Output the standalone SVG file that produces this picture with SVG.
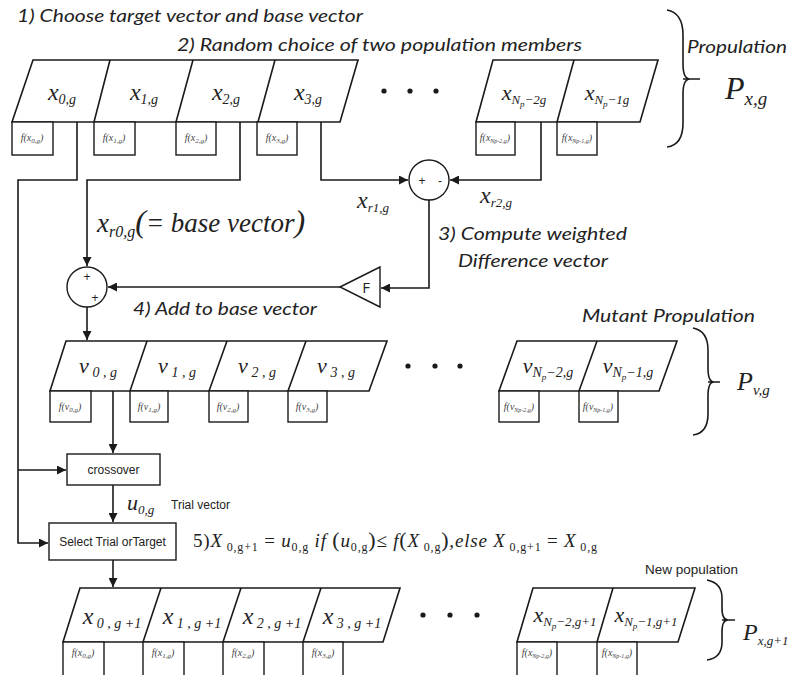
<svg xmlns="http://www.w3.org/2000/svg" width="791" height="675" viewBox="0 0 791 675">
<defs>
<marker id="ah" viewBox="0 0 10 10" refX="10" refY="5" markerWidth="9" markerHeight="9" markerUnits="userSpaceOnUse" orient="auto">
<path d="M0,0 L10,5 L0,10 z" fill="#1a1a1a"/>
</marker>
<style>
.ln{fill:none;stroke:#1a1a1a;stroke-width:1.6}
.cell{fill:#fff;stroke:#1a1a1a;stroke-width:1.6}
.fb{fill:#fff;stroke:#1a1a1a;stroke-width:1.4}
.box{fill:#fff;stroke:#1a1a1a;stroke-width:1.4}
.lab{font-family:Lato,"Open Sans",sans-serif;font-style:italic;fill:#222}
.sans{font-family:"Open Sans","Liberation Sans",sans-serif;fill:#222}
.m{font-family:"Liberation Serif",serif;font-style:italic;fill:#222}
.mu{font-family:"Liberation Serif",serif;fill:#222}
.fx{font-family:"Liberation Serif",serif;font-style:italic;font-size:10px;fill:#444}
.sg{font-family:"Liberation Sans",sans-serif;font-size:12px;fill:#222}
</style>
</defs>

<!-- titles -->
<text class="lab" x="17" y="22" font-size="18" textLength="346" lengthAdjust="spacingAndGlyphs">1) Choose target vector and base vector</text>
<text class="lab" x="177" y="51" font-size="18" textLength="405" lengthAdjust="spacingAndGlyphs">2) Random choice of two population members</text>
<text class="lab" x="687" y="53" font-size="17" textLength="100" lengthAdjust="spacingAndGlyphs">Propulation</text>
<text class="m" x="725" y="99" font-size="32">P<tspan font-size="19" dy="6">x,g</tspan></text>

<!-- top population -->
<g id="pop-top">
<polygon class="cell" points="33,60 358,60 340,122 12,122"/>
<path class="ln" d="M110,60 L94,122 M193,60 L176,122 M275,60 L258,122"/>
<polygon class="cell" points="493,60 658,60 640,122 476,122"/>
<path class="ln" d="M574,60 L557,122"/>
<text class="m" x="62" y="100" font-size="24" text-anchor="middle">x<tspan font-size="14" dy="4">0,g</tspan></text>
<text class="m" x="144" y="100" font-size="24" text-anchor="middle">x<tspan font-size="14" dy="4">1,g</tspan></text>
<text class="m" x="226" y="100" font-size="24" text-anchor="middle">x<tspan font-size="14" dy="4">2,g</tspan></text>
<text class="m" x="308" y="100" font-size="24" text-anchor="middle">x<tspan font-size="14" dy="4">3,g</tspan></text>
<text class="m" x="524" y="100" font-size="22" text-anchor="middle">x<tspan font-size="13" dy="4">N</tspan><tspan font-size="9" dy="3">p</tspan><tspan font-size="13" dy="-3">−2g</tspan></text>
<text class="m" x="607" y="100" font-size="22" text-anchor="middle">x<tspan font-size="13" dy="4">N</tspan><tspan font-size="9" dy="3">p</tspan><tspan font-size="13" dy="-3">−1g</tspan></text>
<circle cx="384" cy="91" r="2.6" fill="#1a1a1a"/>
<circle cx="410" cy="91" r="2.6" fill="#1a1a1a"/>
<circle cx="436" cy="91" r="2.6" fill="#1a1a1a"/>
</g>
<g id="f-top">
<rect class="fb" x="12" y="122" width="41" height="33"/>
<rect class="fb" x="94" y="122" width="41" height="33"/>
<rect class="fb" x="176" y="122" width="40" height="33"/>
<rect class="fb" x="257" y="122" width="40" height="33"/>
<rect class="fb" x="476" y="122" width="39" height="33"/>
<rect class="fb" x="557" y="122" width="40" height="33"/>
<text class="fx" x="32" y="141" text-anchor="middle">f(x<tspan font-size="7" dy="2">0,g</tspan><tspan dy="-2">)</tspan></text>
<text class="fx" x="114" y="141" text-anchor="middle">f(x<tspan font-size="7" dy="2">1,g</tspan><tspan dy="-2">)</tspan></text>
<text class="fx" x="196" y="141" text-anchor="middle">f(x<tspan font-size="7" dy="2">2,g</tspan><tspan dy="-2">)</tspan></text>
<text class="fx" x="277" y="141" text-anchor="middle">f(x<tspan font-size="7" dy="2">3,g</tspan><tspan dy="-2">)</tspan></text>
<text class="fx" x="495" y="141" text-anchor="middle">f(x<tspan font-size="6" dy="2">Np-2,g</tspan><tspan dy="-2">)</tspan></text>
<text class="fx" x="577" y="141" text-anchor="middle">f(x<tspan font-size="6" dy="2">Np-1,g</tspan><tspan dy="-2">)</tspan></text>
</g>
<path id="brace-top" class="ln" d="M667,10 Q683,13 683,35 V64 Q683,79 690,79 Q683,79 683,94 V123 Q683,145 667,147 M683,79 H700"/>

<!-- connectors -->
<g id="connectors">
<path class="ln" d="M77,122 V180 H18 V543 H48" marker-end="url(#ah)"/>
<path class="ln" d="M18,470 H66" marker-end="url(#ah)"/>
<path class="ln" d="M240,122 V180 H87 V266" marker-end="url(#ah)"/>
<path class="ln" d="M321,122 V180 H408" marker-end="url(#ah)"/>
<path class="ln" d="M541,122 V180 H450" marker-end="url(#ah)"/>
<path class="ln" d="M429,200 V288 H381" marker-end="url(#ah)"/>
<path class="ln" d="M340,287 H108" marker-end="url(#ah)"/>
<path class="ln" d="M87,307 V340" marker-end="url(#ah)"/>
<path class="ln" d="M113,391 V453" marker-end="url(#ah)"/>
<path class="ln" d="M113,485 V522" marker-end="url(#ah)"/>
<path class="ln" d="M113,560 V587" marker-end="url(#ah)"/>
</g>

<g id="diff">
<circle class="box" cx="429" cy="180" r="20"/>
<text class="sg" x="422" y="185" text-anchor="middle">+</text>
<text class="sg" x="440" y="185" text-anchor="middle">-</text>
</g>
<g id="sum">
<circle class="box" cx="87" cy="287" r="20"/>
<text class="sg" x="87" y="281" text-anchor="middle" font-size="11">+</text>
<text class="sg" x="95" y="302" text-anchor="middle" font-size="11">+</text>
</g>
<g id="F">
<polygon class="box" points="340,287 380,267 380,307"/>
<text class="sans" x="366" y="293" font-size="15" text-anchor="middle">F</text>
</g>

<text class="m" x="357" y="208" font-size="24">x<tspan font-size="13" dy="4">r1,g</tspan></text>
<text class="m" x="480" y="203" font-size="24">x<tspan font-size="13" dy="4">r2,g</tspan></text>
<text class="m" x="97" y="232" font-size="27">x<tspan font-size="16" dy="5">r0,g</tspan><tspan class="mu" font-size="32" dy="-5">(</tspan><tspan class="mu" font-size="27">=</tspan><tspan font-size="27"> base vector</tspan><tspan class="mu" font-size="32">)</tspan></text>
<text class="lab" x="438" y="240" font-size="18" textLength="189" lengthAdjust="spacingAndGlyphs">3) Compute weighted</text>
<text class="lab" x="458" y="267" font-size="18" textLength="150" lengthAdjust="spacingAndGlyphs">Difference vector</text>
<text class="lab" x="133" y="315" font-size="18" textLength="184" lengthAdjust="spacingAndGlyphs">4) Add to base vector</text>
<text class="lab" x="582" y="322" font-size="18" textLength="173" lengthAdjust="spacingAndGlyphs">Mutant Propulation</text>

<!-- mutant population -->
<g id="pop-mutant">
<polygon class="cell" points="66,341 387,341 369,391 50,391"/>
<path class="ln" d="M147,341 L130,391 M227,341 L209,391 M306,341 L288,391"/>
<polygon class="cell" points="517,341 677,341 659,391 499,391"/>
<path class="ln" d="M597,341 L579,391"/>
<text class="m" x="98" y="373" font-size="22" text-anchor="middle">v<tspan font-size="14" dy="4"> 0 , g</tspan></text>
<text class="m" x="177" y="373" font-size="22" text-anchor="middle">v<tspan font-size="14" dy="4"> 1 , g</tspan></text>
<text class="m" x="257" y="373" font-size="22" text-anchor="middle">v<tspan font-size="14" dy="4"> 2 , g</tspan></text>
<text class="m" x="336" y="373" font-size="22" text-anchor="middle">v<tspan font-size="14" dy="4"> 3 , g</tspan></text>
<text class="m" x="548" y="373" font-size="22" text-anchor="middle">v<tspan font-size="14" dy="4">N</tspan><tspan font-size="9" dy="3">p</tspan><tspan font-size="14" dy="-3">−2,g</tspan></text>
<text class="m" x="628" y="373" font-size="22" text-anchor="middle">v<tspan font-size="14" dy="4">N</tspan><tspan font-size="9" dy="3">p</tspan><tspan font-size="14" dy="-3">−1,g</tspan></text>
<circle cx="408" cy="366" r="2.6" fill="#1a1a1a"/>
<circle cx="435" cy="366" r="2.6" fill="#1a1a1a"/>
<circle cx="460" cy="366" r="2.6" fill="#1a1a1a"/>
</g>
<g id="f-mutant">
<rect class="fb" x="50" y="391" width="41" height="31"/>
<rect class="fb" x="130" y="391" width="38" height="31"/>
<rect class="fb" x="209" y="391" width="39" height="31"/>
<rect class="fb" x="288" y="391" width="39" height="31"/>
<rect class="fb" x="499" y="391" width="40" height="31"/>
<rect class="fb" x="579" y="391" width="39" height="31"/>
<text class="fx" x="70" y="410" text-anchor="middle">f(v<tspan font-size="7" dy="2">0,g</tspan><tspan dy="-2">)</tspan></text>
<text class="fx" x="149" y="410" text-anchor="middle">f(v<tspan font-size="7" dy="2">1,g</tspan><tspan dy="-2">)</tspan></text>
<text class="fx" x="228" y="410" text-anchor="middle">f(v<tspan font-size="7" dy="2">2,g</tspan><tspan dy="-2">)</tspan></text>
<text class="fx" x="307" y="410" text-anchor="middle">f(v<tspan font-size="7" dy="2">3,g</tspan><tspan dy="-2">)</tspan></text>
<text class="fx" x="519" y="410" text-anchor="middle">f(v<tspan font-size="6" dy="2">Np-2,g</tspan><tspan dy="-2">)</tspan></text>
<text class="fx" x="598" y="410" text-anchor="middle">f(v<tspan font-size="6" dy="2">Np-1,g</tspan><tspan dy="-2">)</tspan></text>
</g>
<path id="brace-mutant" class="ln" d="M693,328 Q708,331 708,350 V368 Q708,382 714,382 Q708,382 708,396 V414 Q708,433 693,435 M708,382 H720"/>
<text class="m" x="737" y="390" font-size="26">P<tspan font-size="15" dy="5">v,g</tspan></text>

<!-- crossover / select -->
<g id="crossover">
<rect class="box" x="67" y="454" width="93" height="31"/>
<text class="sg" x="113.5" y="474" text-anchor="middle">crossover</text>
</g>
<text class="m" x="127" y="510" font-size="22">u<tspan font-size="13" dy="4">0,g</tspan></text>
<text class="sg" x="171" y="509">Trial  vector</text>
<g id="select">
<rect class="box" x="49" y="523" width="127" height="37"/>
<text class="sg" x="112.5" y="546" text-anchor="middle">Select Trial orTarget</text>
</g>
<text class="mu" x="193" y="547" font-size="19" textLength="404" lengthAdjust="spacing">5)<tspan font-style="italic">X</tspan><tspan font-size="12" dy="4"> 0,g+1</tspan><tspan dy="-4"> = </tspan><tspan font-style="italic">u</tspan><tspan font-size="12" dy="4">0,g</tspan><tspan font-style="italic" dy="-4"> if </tspan><tspan font-size="22">(</tspan><tspan font-style="italic">u</tspan><tspan font-size="12" dy="4">0,g</tspan><tspan font-size="22" dy="-4">)</tspan><tspan>≤ </tspan><tspan font-style="italic">f</tspan><tspan font-size="22">(</tspan><tspan font-style="italic">X</tspan><tspan font-size="12" dy="4"> 0,g</tspan><tspan font-size="22" dy="-4">)</tspan><tspan font-style="italic">,else   X</tspan><tspan font-size="12" dy="4"> 0,g+1</tspan><tspan dy="-4"> = </tspan><tspan font-style="italic">X</tspan><tspan font-size="12" dy="4"> 0,g</tspan></text>

<!-- new population -->
<text class="sg" x="645" y="574" textLength="93" lengthAdjust="spacingAndGlyphs">New population</text>
<g id="pop-new">
<polygon class="cell" points="80,588 400,588 383,642 63,642"/>
<path class="ln" d="M161,588 L143,642 M241,588 L223,642 M321,588 L303,642"/>
<polygon class="cell" points="533,588 695,588 678,642 517,642"/>
<path class="ln" d="M613,588 L597,642"/>
<text class="m" x="112" y="624" font-size="24" text-anchor="middle">x<tspan font-size="14" dy="4"> 0 , g +1</tspan></text>
<text class="m" x="192" y="624" font-size="24" text-anchor="middle">x<tspan font-size="14" dy="4"> 1 , g +1</tspan></text>
<text class="m" x="272" y="624" font-size="24" text-anchor="middle">x<tspan font-size="14" dy="4"> 2 , g +1</tspan></text>
<text class="m" x="352" y="624" font-size="24" text-anchor="middle">x<tspan font-size="14" dy="4"> 3 , g +1</tspan></text>
<text class="m" x="565" y="622" font-size="22" text-anchor="middle">x<tspan font-size="13" dy="4">N</tspan><tspan font-size="9" dy="3">p</tspan><tspan font-size="13" dy="-3">−2,g+1</tspan></text>
<text class="m" x="646" y="622" font-size="22" text-anchor="middle">x<tspan font-size="13" dy="4">N</tspan><tspan font-size="9" dy="3">p</tspan><tspan font-size="13" dy="-3">−1,g+1</tspan></text>
<circle cx="423" cy="615" r="2.6" fill="#1a1a1a"/>
<circle cx="450" cy="615" r="2.6" fill="#1a1a1a"/>
<circle cx="477" cy="615" r="2.6" fill="#1a1a1a"/>
</g>
<g id="f-new">
<rect class="fb" x="63" y="642" width="41" height="40"/>
<rect class="fb" x="143" y="642" width="41" height="40"/>
<rect class="fb" x="223" y="642" width="41" height="40"/>
<rect class="fb" x="303" y="642" width="40" height="40"/>
<rect class="fb" x="517" y="642" width="40" height="40"/>
<rect class="fb" x="597" y="642" width="40" height="40"/>
<text class="fx" x="83" y="656" text-anchor="middle">f(x<tspan font-size="7" dy="2">0,g</tspan><tspan dy="-2">)</tspan></text>
<text class="fx" x="163" y="656" text-anchor="middle">f(x<tspan font-size="7" dy="2">1,g</tspan><tspan dy="-2">)</tspan></text>
<text class="fx" x="243" y="656" text-anchor="middle">f(x<tspan font-size="7" dy="2">2,g</tspan><tspan dy="-2">)</tspan></text>
<text class="fx" x="323" y="656" text-anchor="middle">f(x<tspan font-size="7" dy="2">3,g</tspan><tspan dy="-2">)</tspan></text>
<text class="fx" x="537" y="656" text-anchor="middle">f(x<tspan font-size="6" dy="2">Np-2,g</tspan><tspan dy="-2">)</tspan></text>
<text class="fx" x="617" y="656" text-anchor="middle">f(x<tspan font-size="6" dy="2">Np-1,g</tspan><tspan dy="-2">)</tspan></text>
</g>
<path id="brace-new" class="ln" d="M707,580 Q722,583 722,598 V608 Q722,620 728,620 Q722,620 722,632 V642 Q722,658 707,660 M722,620 H735"/>
<text class="m" x="743" y="640" font-size="24">P<tspan font-size="13" dy="5">x,g+1</tspan></text>
</svg>
